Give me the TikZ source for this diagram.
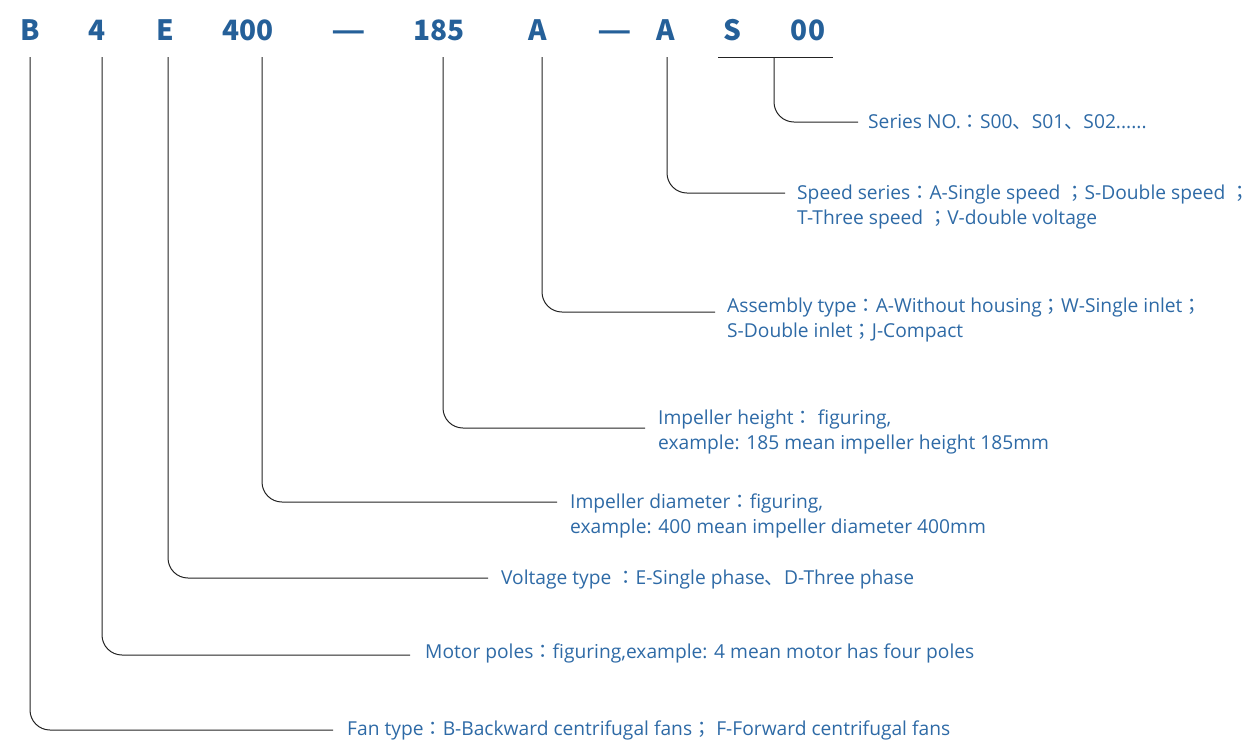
\documentclass[tikz,border=0pt]{standalone}
\usepackage{fontspec}
\setmainfont{Open Sans}
\newfontfamily\cjk{Noto Sans CJK SC}
\newfontfamily\cjktc{Noto Sans CJK TC}
\usetikzlibrary{positioning}
\definecolor{codeblue}{RGB}{37,96,153}
\definecolor{textblue}{RGB}{46,106,166}
\definecolor{leadgray}{RGB}{35,35,35}
% full-width punctuation
\newcommand{\fcolon}{{\cjktc ：}}
\newcommand{\fsemi}{{\cjktc ；}}
\newcommand{\fcomma}{{\cjk 、}}

\begin{document}
\begin{tikzpicture}
            [
            x=1pt,y=-1pt,
            codechar/.style={font={\cjk\fontsize{28}{30}\selectfont\bfseries},
                text=codeblue,inner sep=0pt,anchor=base},
            desc/.style={font={\fontsize{19.2}{24.5}\selectfont},
                text=textblue,inner sep=0pt,anchor=base west,align=left},
            lead/.style={draw=leadgray,line width=1pt,rounded corners=20pt},
            ]
            \useasboundingbox (0,0) rectangle (1251,740);

            % Code
            \node[codechar] (cB)    at (30,40)  {B};
            \node[codechar] (c4)    at (97,40)  {4};
            \node[codechar] (cE)    at (165,40) {E};
            \node[codechar] (c400)  at (248,40) {400};
            \node[codechar,xscale=1.35] (dashA) at (349,40) {—};
            \node[codechar] (c185)  at (439,40) {185};
            \node[codechar] (cA)    at (538,40) {A};
            \node[codechar,xscale=1.35] (dashB) at (615,40) {—};
            \node[codechar] (cA2)   at (666,40) {A};
            \node[codechar] (cS)    at (732,40) {S};
            \node[codechar] (c00)   at (808,40) {00};

            % Descriptions (base = last line)
            \node[desc] (dSeries)  at (868,128) {Series NO.\fcolon S00\fcomma S01\fcomma S02......};
            \node[desc] (dSpeed)   at (797,224) {Speed series\fcolon A-Single speed \fsemi S-Double speed \fsemi\\T-Three speed \fsemi V-double voltage};
            \node[desc] (dAssem)   at (727,337) {Assembly type\fcolon A-Without housing\fsemi W-Single inlet\fsemi\\S-Double inlet\fsemi J-Compact};
            \node[desc] (dHeight)  at (658,449) {Impeller height\fcolon\ figuring,\\example: 185 mean impeller height 185mm};
            \node[desc] (dDiam)    at (570,533) {Impeller diameter\fcolon figuring,\\example: 400 mean impeller diameter 400mm};
            \node[desc] (dVolt)    at (501,584) {Voltage type \fcolon E-Single phase\fcomma D-Three phase};
            \node[desc] (dPoles)   at (425,658) {Motor poles\fcolon figuring,example: 4 mean motor has four poles};
            \node[desc] (dFan)     at (347,735) {Fan type\fcolon B-Backward centrifugal fans\fsemi\ F-Forward centrifugal fans};

            % Leader ends
            \coordinate (top)     at (0,57);
            \coordinate (barL)    at (718,57);
            \coordinate (barR)    at (833,57);
            \coordinate (barM)    at (774,57);
            \coordinate (eSeries) at (858,122);
            \coordinate (eSpeed)  at (785,193);
            \coordinate (eAssem)  at (715,312);
            \coordinate (eHeight) at (645,428);
            \coordinate (eDiam)   at (557,502);
            \coordinate (eVolt)   at (488,578);
            \coordinate (ePoles)  at (410,655);
            \coordinate (eFan)    at (333,730);

            % Leaders
            \draw[lead] (barL) -- (barR);
            \draw[lead] (barM) |- (eSeries);
            \draw[lead] ([xshift=1pt]cA2 |- top) |- (eSpeed);
            \draw[lead] ([xshift=4pt]cA |- top) |- (eAssem);
            \draw[lead] ([xshift=4pt]c185 |- top) |- (eHeight);
            \draw[lead] ([xshift=14pt]c400 |- top) |- (eDiam);
            \draw[lead] ([xshift=3pt]cE |- top) |- (eVolt);
            \draw[lead] ([xshift=5pt]c4 |- top) |- (ePoles);
            \draw[lead] (cB |- top) |- (eFan);

        \end{tikzpicture}
\end{document}
